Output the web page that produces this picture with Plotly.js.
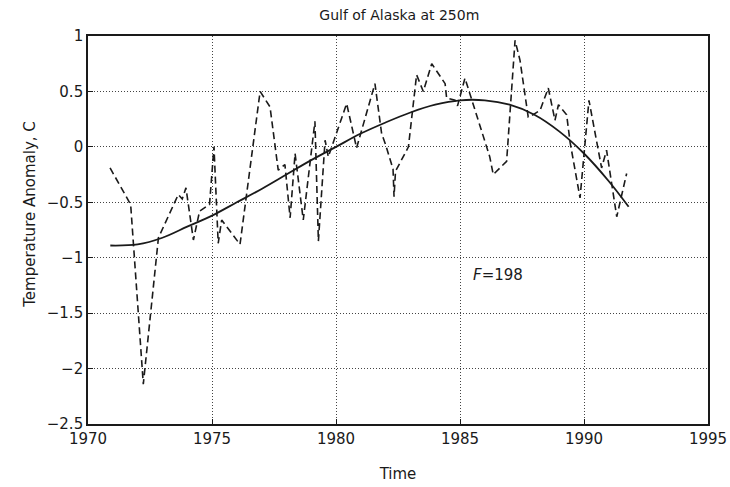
<!DOCTYPE html>
<html>
<head>
<meta charset="utf-8">
<script src="https://cdn.plot.ly/plotly-3.0.1.min.js"></script>
<style>
  html, body { margin: 0; padding: 0; background: #ffffff; }
  #chart { width: 730px; height: 487px; }
</style>
</head>
<body>
<div id="chart"></div>
<script>
// Observed temperature anomaly at 250 m depth (dashed series)
const obsYears = [
  1970.89, 1971.72, 1972.23, 1972.84, 1973.64, 1973.80, 1973.95, 1974.25, 1974.50, 1974.90,
  1975.08, 1975.25, 1975.39, 1976.13, 1976.94, 1977.34, 1977.67, 1977.94, 1978.15, 1978.35,
  1978.68, 1979.15, 1979.29, 1979.56, 1979.69, 1979.80, 1980.43, 1980.83, 1981.57, 1981.84,
  1982.00, 1982.30, 1982.34, 1982.40, 1982.92, 1983.25, 1983.52, 1983.86, 1984.40, 1984.46,
  1984.80, 1984.90, 1985.20, 1986.20, 1986.34, 1986.88, 1987.22, 1987.42, 1987.75, 1987.88,
  1988.23, 1988.56, 1988.83, 1988.97, 1989.30, 1989.44, 1989.84, 1990.20, 1990.51, 1990.71,
  1990.91, 1991.32, 1991.72
];
const obsAnomaly = [
  -0.19, -0.52, -2.14, -0.82, -0.43, -0.47, -0.37, -0.84, -0.58, -0.52,
   0.00, -0.87, -0.66, -0.88,  0.50,  0.36, -0.21, -0.16, -0.64, -0.06,
  -0.66,  0.23, -0.85,  0.06, -0.09, -0.02,  0.39, -0.01,  0.57,  0.12,
   0.02, -0.20, -0.45, -0.22,  0.00,  0.65,  0.50,  0.75,  0.57,  0.44,
   0.42,  0.37,  0.62, -0.09, -0.25, -0.13,  0.96,  0.78,  0.27,  0.28,
   0.33,  0.53,  0.24,  0.38,  0.29,  0.04, -0.46,  0.42,  0.03, -0.19,
  -0.03, -0.63, -0.24
];

// Smooth fitted trend (solid curve)
const fitYears = [
  1970.9, 1972, 1973, 1974, 1975, 1976, 1977, 1978, 1979, 1980, 1981,
  1982, 1983, 1984, 1985, 1986, 1987, 1988, 1989, 1990, 1991, 1991.8
];
const fitAnomaly = [
  -0.89, -0.88, -0.82, -0.72, -0.62, -0.50, -0.38, -0.25, -0.12, 0.00, 0.12,
   0.22,  0.31,  0.38,  0.42,  0.42,  0.38,  0.29,  0.14, -0.06, -0.31, -0.54
];

const xTicks = [1970, 1975, 1980, 1985, 1990, 1995];
const yTicks = [-2.5, -2, -1.5, -1, -0.5, 0, 0.5, 1];
const yTickText = ['\u22122.5', '\u22122', '\u22121.5', '\u22121', '\u22120.5', '0', '0.5', '1'];

const font = 'DejaVu Sans, Liberation Sans, sans-serif';
const ink = '#1a1a1a';

const traces = [
  {
    x: obsYears, y: obsAnomaly, type: 'scatter', mode: 'lines',
    line: { color: ink, width: 1.6, dash: '7px,4px' },
    hoverinfo: 'skip', showlegend: false
  },
  {
    x: fitYears, y: fitAnomaly, type: 'scatter', mode: 'lines',
    line: { color: ink, width: 1.8, shape: 'spline', smoothing: 1.0 },
    hoverinfo: 'skip', showlegend: false
  }
];

const layout = {
  width: 730, height: 487,
  margin: { l: 88, r: 22, t: 36, b: 63 },
  paper_bgcolor: '#ffffff', plot_bgcolor: '#ffffff',
  font: { family: font, color: ink, size: 14 },
  title: {
    text: 'Gulf of Alaska at 250m',
    font: { family: font, size: 14, color: ink },
    x: 0.547, xanchor: 'center', y: 0.968, yanchor: 'middle'
  },
  xaxis: {
    range: [1970, 1995], tickvals: xTicks, ticktext: xTicks.map(String),
    showgrid: true, gridcolor: '#444444', griddash: '1px,2px', gridwidth: 1,
    zeroline: false, showline: true, linecolor: ink, linewidth: 1.8, mirror: true,
    ticks: 'inside', ticklen: 5, tickcolor: ink,
    tickfont: { family: font, size: 15, color: ink },
    title: { text: 'Time', font: { family: font, size: 15, color: ink }, standoff: 22 }
  },
  yaxis: {
    range: [-2.5, 1], tickvals: yTicks, ticktext: yTickText,
    showgrid: true, gridcolor: '#444444', griddash: '1px,2px', gridwidth: 1,
    zeroline: false, showline: true, linecolor: ink, linewidth: 1.8, mirror: true,
    ticks: 'inside', ticklen: 5, tickcolor: ink,
    tickfont: { family: font, size: 15, color: ink }
  },
  annotations: [
    {
      text: 'Temperature Anomaly, C', textangle: -90,
      xref: 'paper', yref: 'paper', x: -0.093, y: 0.54,
      xanchor: 'center', yanchor: 'middle', showarrow: false,
      font: { family: font, size: 15, color: ink }
    },
    {
      text: '<i>F</i>=198',
      xref: 'x', yref: 'y', x: 1985.45, y: -1.16,
      xanchor: 'left', yanchor: 'middle', showarrow: false,
      font: { family: font, size: 15, color: ink }
    }
  ]
};

Plotly.newPlot('chart', traces, layout, { displayModeBar: false, staticPlot: true });
</script>
</body>
</html>
